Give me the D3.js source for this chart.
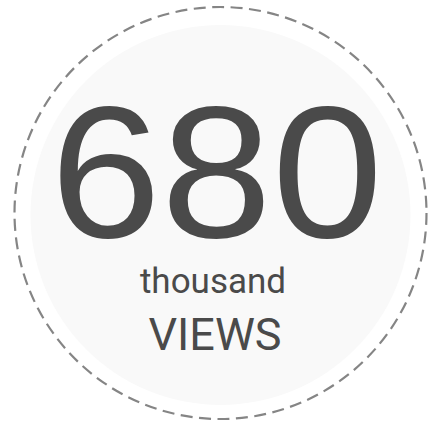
<!DOCTYPE html>
<html><head><meta charset="utf-8">
<script src="https://cdn.jsdelivr.net/npm/d3@7"></script>
<style>html,body{margin:0;padding:0;background:#fff;}</style>
</head><body>
<svg id="chart" width="431" height="428"></svg>
<script>
const values = [680];
const units = ["thousand"];
const labels = ["VIEWS"];

const svg = d3.select("#chart");
const cx = 220.5, cy = 213;
const g = svg.append("g").attr("transform", `translate(${cx},${cy})`);

g.append("circle").attr("r", 206)
  .attr("fill", "none").attr("stroke", "#858585").attr("stroke-width", 2.2)
  .attr("stroke-dasharray", "12 6.5");
g.append("circle").attr("cy", 2).attr("r", 190).attr("fill", "#f9f9f9");

g.selectAll("text.val").data(values).join("text").attr("class","val")
  .attr("transform", "translate(-4,24) scale(1.066,1)").attr("text-anchor","middle")
  .attr("font-family", "'Liberation Sans', Arial, sans-serif").attr("font-size", 187).attr("fill", "#4a4a4a")
  .text(d => d3.format("d")(d));
g.selectAll("text.unit").data(units).join("text").attr("class","unit")
  .attr("x", -7.5).attr("y", 80).attr("text-anchor","middle")
  .attr("font-family", "Roboto, sans-serif").attr("font-size", 35).attr("fill", "#4a4a4a")
  .text(d => d);
g.selectAll("text.lab").data(labels).join("text").attr("class","lab")
  .attr("x", -5.5).attr("y", 137).attr("text-anchor","middle")
  .attr("font-family", "Roboto, sans-serif").attr("font-size", 45).attr("fill", "#4a4a4a")
  .text(d => d);
</script>
</body></html>
